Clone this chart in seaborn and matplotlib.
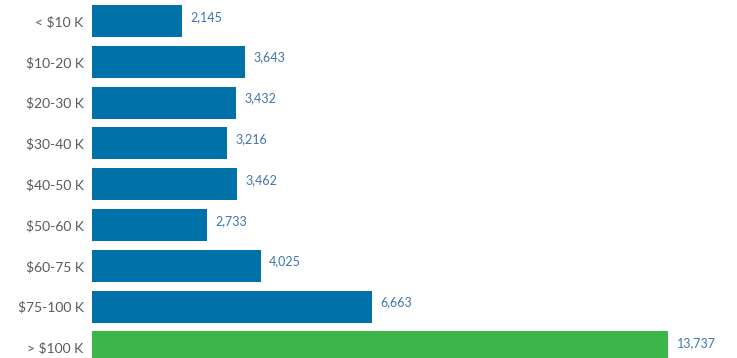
import matplotlib
matplotlib.use("Agg")
import matplotlib.pyplot as plt
import seaborn as sns
import pandas as pd

# Household income brackets and counts
brackets = ["< $10 K", "$10-20 K", "$20-30 K", "$30-40 K", "$40-50 K",
            "$50-60 K", "$60-75 K", "$75-100 K", "> $100 K"]
counts = [2145, 3643, 3432, 3216, 3462, 2733, 4025, 6663, 13737]
highlight = ["base"] * 8 + ["top"]

BLUE = "#0071a9"
GREEN = "#3db54a"
LABEL_BLUE = "#3f76b0"
TICK_GRAY = "#5a5a5a"

df = pd.DataFrame({"bracket": brackets, "count": counts, "group": highlight})

sns.set_theme(style="white")
plt.rcParams["font.family"] = ["Lato", "DejaVu Sans"]

fig = plt.figure(figsize=(7.37, 3.58), dpi=100)
ax = fig.add_axes([92 / 737, 0, 1 - 92 / 737, 1])

sns.barplot(data=df, x="count", y="bracket", hue="group",
            palette={"base": BLUE, "top": GREEN}, orient="h",
            width=0.78, dodge=False, legend=False, ax=ax,
            edgecolor="none", saturation=1)

for i, v in enumerate(counts):
    ax.annotate(f"{v:,}", xy=(v, i), xytext=(6, 3), textcoords="offset points",
                ha="left", va="center", fontsize=9, color=LABEL_BLUE)

ax.set_xlim(0, 15372)
ax.set_ylim(8.26, -0.515)
ax.set_xlabel("")
ax.set_ylabel("")
ax.set_xticks([])
ax.tick_params(axis="y", length=0, pad=6, labelsize=10, labelcolor=TICK_GRAY)
for s in ax.spines.values():
    s.set_visible(False)

fig.savefig("out.png", dpi=100, facecolor="white")
